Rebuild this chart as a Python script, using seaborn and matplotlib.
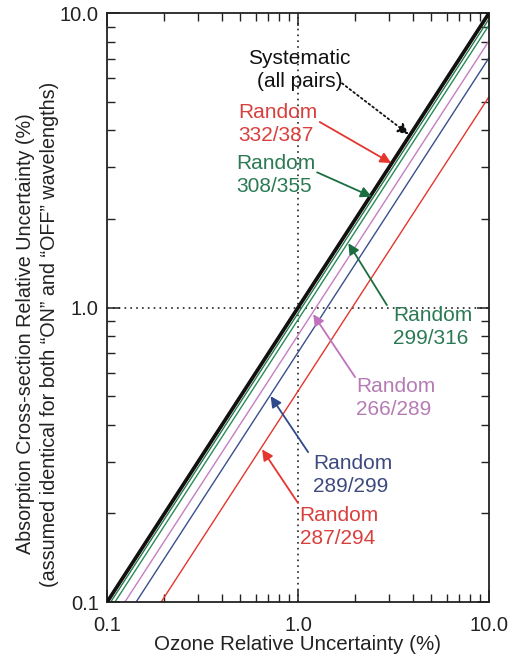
import numpy as np
import pandas as pd
import matplotlib
matplotlib.use('Agg')
import matplotlib.pyplot as plt
import seaborn as sns

# series: each line runs from (x_start, 0.1) to (10, y_end)
names = ['Systematic', '332/387', '308/355', '299/316', '266/289', '289/299', '287/294']
colors = ['#111111', '#e5352f', '#1f7d4d', '#2a8a58', '#c57ec3', '#3a4f8e', '#e5352f']
x_start = [0.1, 0.1015, 0.1045, 0.110, 0.124, 0.142, 0.192]
y_end = [10.0, 9.85, 9.55, 9.1, 8.05, 7.05, 5.2]
widths = [2.6, 1.0, 1.0, 1.0, 1.0, 1.0, 1.0]

x_ticks = [0.1, 1.0, 10.0]
tick_labels = ['0.1', '1.0', '10.0']

rows = []
for n, xs, ye in zip(names, x_start, y_end):
    rows.append({'series': n, 'x': xs, 'y': 0.1})
    rows.append({'series': n, 'x': 10.0, 'y': ye})
df = pd.DataFrame(rows)

sns.set_style('ticks')
plt.rcParams['font.family'] = ['Liberation Sans', 'DejaVu Sans']

fig = plt.figure(figsize=(5.12, 6.58), dpi=100)
ax = fig.add_axes([0.209, 0.085, 0.746, 0.895])

# reference lines at 1 %
ax.axvline(1.0, color='#222222', ls=(0, (1, 2.5)), lw=1.2, zorder=1)
ax.axhline(1.0, color='#222222', ls=(0, (1, 2.5)), lw=1.2, zorder=1)

for n, c, w in zip(names[::-1], colors[::-1], widths[::-1]):
    sub = df[df['series'] == n]
    sns.lineplot(data=sub, x='x', y='y', color=c, lw=w, ax=ax, zorder=3 if n == 'Systematic' else 2)

ax.set_xscale('log')
ax.set_yscale('log')
ax.set_xlim(0.1, 10)
ax.set_ylim(0.1, 10)
ax.set_xticks(x_ticks)
ax.set_xticklabels(tick_labels)
ax.set_yticks(x_ticks)
ax.set_yticklabels(tick_labels)
ax.tick_params(which='both', direction='in', top=True, right=True, labelsize=14.5, colors='#222222')
ax.tick_params(which='major', length=9, width=1.1)
ax.tick_params(which='minor', length=6, width=1.0)
ax.tick_params(axis='x', which='major', pad=10)
ax.tick_params(axis='y', which='major', pad=6)
for s in ax.spines.values():
    s.set_linewidth(1.3)
    s.set_color('#222222')

ax.set_xlabel('Ozone Relative Uncertainty (%)', fontsize=14.8, color='#222222')
ax.xaxis.set_label_coords(0.5, -0.056)
ax.set_ylabel('Absorption Cross-section Relative Uncertainty (%)\n'
              '(assumed identical for both \u201cON\u201d and \u201cOFF\u201d wavelengths)',
              fontsize=14.2, color='#222222', linespacing=1.35)
ax.yaxis.set_label_coords(-0.125, 0.455)

# annotations: (text, text pos, ha, text colour, arrow tail, arrow tip, arrow colour, style)
notes = [
    ('Systematic\n(all pairs)', (1.02, 6.4), 'center', '#111111', (1.70, 5.78), (3.85, 3.85), '#111111', ':'),
    ('Random\n332/387', (0.485, 4.2), 'left', '#d8403e', (1.30, 4.27), (3.12, 3.08), '#e5352f', '-'),
    ('Random\n308/355', (0.474, 2.82), 'left', '#2b7a54', (1.26, 2.88), (2.47, 2.37), '#1a6e40', '-'),
    ('Random\n299/316', (3.14, 0.859), 'left', '#2b7a54', (2.92, 1.02), (1.82, 1.67), '#1a6e40', '-'),
    ('Random\n266/289', (2.01, 0.493), 'left', '#b57cb4', (1.99, 0.581), (1.19, 0.958), '#c072bb', '-'),
    ('Random\n289/299', (1.20, 0.27), 'left', '#3d4a7e', (1.13, 0.323), (0.712, 0.505), '#2f4a8a', '-'),
    ('Random\n287/294', (1.02, 0.18), 'left', '#d8403e', (1.0, 0.217), (0.643, 0.333), '#e5352f', '-'),
]
for txt, pos, ha, tc, tail, tip, ac, ls in notes:
    ax.text(pos[0], pos[1], txt, ha=ha, va='center', color=tc, fontsize=15, linespacing=1.25, zorder=5)
    ax.annotate('', xy=tip, xytext=tail,
                arrowprops=dict(arrowstyle='-|>', color=ac, lw=1.3, ls=ls,
                                mutation_scale=16, shrinkA=0, shrinkB=1),
                zorder=4)

fig.savefig('out.png', dpi=100)
